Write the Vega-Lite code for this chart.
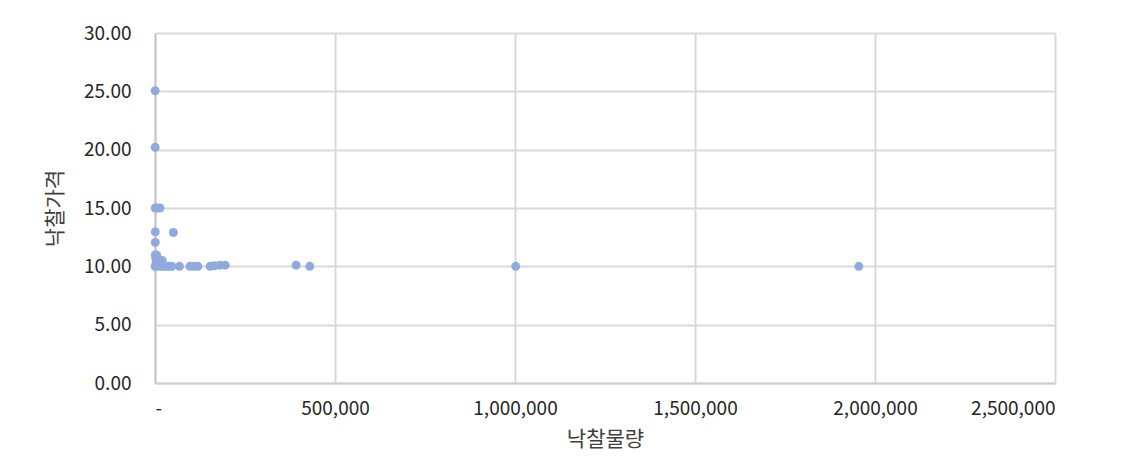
{
  "$schema": "https://vega.github.io/schema/vega-lite/v6.json",
  "autosize": "none",
  "width": 900,
  "height": 350,
  "padding": {"left": 155, "top": 33, "right": 79, "bottom": 80},
  "background": "white",
  "config": {
    "view": {"stroke": null},
    "font": "Noto Sans CJK KR"
  },
  "data": {
    "values": [
      {"q": 500, "p": 25.05},
      {"q": 500, "p": 20.2},
      {"q": 500, "p": 15.0},
      {"q": 6000, "p": 15.0},
      {"q": 14000, "p": 15.0},
      {"q": 800, "p": 12.95},
      {"q": 51000, "p": 12.9},
      {"q": 800, "p": 12.05},
      {"q": 1000, "p": 11.0},
      {"q": 5000, "p": 10.95},
      {"q": 2000, "p": 10.7},
      {"q": 9000, "p": 10.6},
      {"q": 14000, "p": 10.5},
      {"q": 20000, "p": 10.5},
      {"q": 3000, "p": 10.3},
      {"q": 12000, "p": 10.3},
      {"q": 500, "p": 10.0},
      {"q": 4000, "p": 10.0},
      {"q": 9000, "p": 10.05},
      {"q": 16000, "p": 10.0},
      {"q": 24000, "p": 10.0},
      {"q": 32000, "p": 10.0},
      {"q": 40000, "p": 10.0},
      {"q": 47000, "p": 10.0},
      {"q": 68000, "p": 10.0},
      {"q": 97000, "p": 10.0},
      {"q": 108000, "p": 10.0},
      {"q": 119000, "p": 10.0},
      {"q": 153000, "p": 10.0},
      {"q": 165000, "p": 10.05},
      {"q": 180000, "p": 10.1},
      {"q": 195000, "p": 10.1},
      {"q": 392000, "p": 10.1},
      {"q": 430000, "p": 10.0},
      {"q": 1002000, "p": 10.0},
      {"q": 1955000, "p": 10.0}
    ]
  },
  "mark": {"type": "point", "filled": true, "size": 80, "color": "#8FAADC", "opacity": 1},
  "encoding": {
    "x": {
      "field": "q",
      "type": "quantitative",
      "scale": {"domain": [0, 2500000], "nice": false, "zero": true},
      "axis": {
        "title": "낙찰물량",
        "titleFontSize": 21,
        "titleFontWeight": "normal",
        "titleColor": "#404040",
        "titlePadding": 10,
        "values": [0, 500000, 1000000, 1500000, 2000000, 2500000],
        "labelExpr": "datum.value == 0 ? '-' : format(datum.value, ',')",
        "labelFontSize": 19,
        "labelColor": "#262626",
        "labelPadding": 16,
        "ticks": false,
        "domainColor": "#d0d0d0",
        "domainWidth": 2,
        "gridColor": "#d9d9d9",
        "gridWidth": 2
      }
    },
    "y": {
      "field": "p",
      "type": "quantitative",
      "scale": {"domain": [0, 30], "nice": false},
      "axis": {
        "title": "낙찰가격",
        "titleFontSize": 21,
        "titleFontWeight": "normal",
        "titleColor": "#404040",
        "titlePadding": 18,
        "values": [0, 5, 10, 15, 20, 25, 30],
        "format": ".2f",
        "labelFontSize": 19,
        "labelColor": "#262626",
        "labelPadding": 24,
        "ticks": false,
        "domainColor": "#c8c8c8",
        "domainWidth": 2,
        "gridColor": "#d9d9d9",
        "gridWidth": 2
      }
    }
  }
}
